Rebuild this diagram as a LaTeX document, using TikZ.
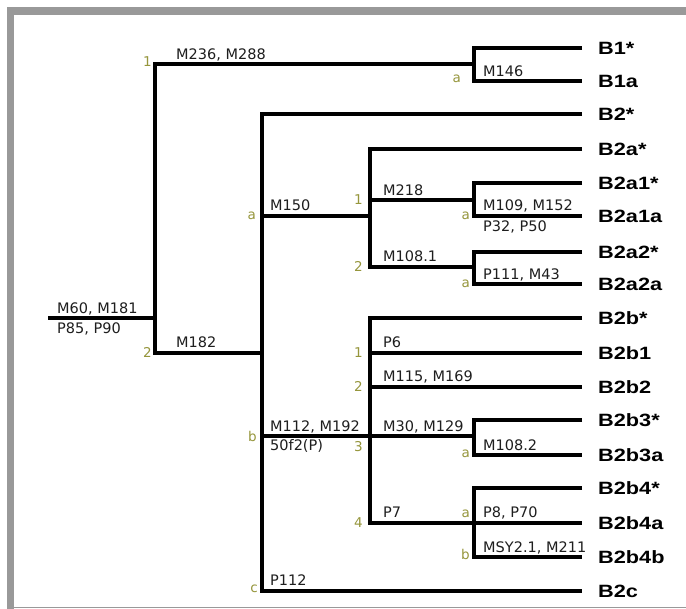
\documentclass[tikz,border=0pt]{standalone}
\usepackage{fontspec}
\newfontfamily\lblfont{DejaVu Sans}
\newfontfamily\leaffont{Liberation Sans}[FakeStretch=1.22]
\definecolor{framegray}{RGB}{153,153,153}
\definecolor{grn}{RGB}{150,150,60}
\definecolor{lbl}{RGB}{30,30,30}
\begin{document}
\begin{tikzpicture}[x=1pt,y=-1pt,
  br/.style={line width=4.3pt,line join=miter,line cap=butt},
  leaf/.style={anchor=west,inner xsep=16pt,inner ysep=0pt,text height=12.8pt,text depth=0pt,
    font=\leaffont\bfseries\fontsize{17.8}{20}\selectfont},
  lab/.style={anchor=base west,inner sep=0pt,text=lbl,font=\lblfont\fontsize{14.5}{16}\selectfont},
  grl/.style={anchor=base east,inner sep=0pt,text=grn,font=\lblfont\fontsize{13.5}{15}\selectfont}]
\useasboundingbox (0,0) rectangle (686,609);
\fill[white] (0,0) rectangle (686,609);
% frame
\fill[framegray] (7,7) rectangle (686,15);
\fill[framegray] (7,7) rectangle (14,609);
\draw[framegray,line width=1.5pt] (14,607.5) -- (686,607.5);

% leaves
\node[leaf] (B1s)   at (582,48)  {B1*};
\node[leaf] (B1a)   at (582,81)  {B1a};
\node[leaf] (B2s)   at (582,114) {B2*};
\node[leaf] (B2as)  at (582,149) {B2a*};
\node[leaf] (B2a1s) at (582,183) {B2a1*};
\node[leaf] (B2a1a) at (582,216) {B2a1a};
\node[leaf] (B2a2s) at (582,252) {B2a2*};
\node[leaf] (B2a2a) at (582,284) {B2a2a};
\node[leaf] (B2bs)  at (582,318) {B2b*};
\node[leaf] (B2b1)  at (582,353) {B2b1};
\node[leaf] (B2b2)  at (582,387) {B2b2};
\node[leaf] (B2b3s) at (582,420) {B2b3*};
\node[leaf] (B2b3a) at (582,455) {B2b3a};
\node[leaf] (B2b4s) at (582,488) {B2b4*};
\node[leaf] (B2b4a) at (582,523) {B2b4a};
\node[leaf] (B2b4b) at (582,557) {B2b4b};
\node[leaf] (B2c)   at (582,591) {B2c};

% junctions
\coordinate (r)   at (48,318);
\coordinate (J0)  at (155,318);
\coordinate (c1)  at (155,64);
\coordinate (c2)  at (155,353);
\coordinate (J1)  at (474,64);
\coordinate (J2)  at (262,353);
\coordinate (J2a) at (262,216);
\coordinate (J3)  at (370,216);
\coordinate (J31) at (370,200);
\coordinate (J4)  at (474,200);
\coordinate (J32) at (370,267);
\coordinate (J5)  at (474,267);
\coordinate (J2b) at (262,436);
\coordinate (J6)  at (370,436);
\coordinate (J7)  at (474,436);
\coordinate (J64) at (370,523);
\coordinate (J8)  at (474,523);

% branches
\draw[br] (r) -- (J0);
\draw[br] (J1) -- (c1) -- (c2) -- (J2);
\draw[br] (B1s.west) -- (B1s.west -| J1) -- (B1a.west -| J1) -- (B1a.west);
\draw[br] (B2s.west) -- (B2s.west -| J2) -- (B2c.west -| J2) -- (B2c.west);
\draw[br] (J2a) -- (J3);
\draw[br] (B2as.west) -- (B2as.west -| J3) -- (J32) -- (J5);
\draw[br] (J31) -- (J4);
\draw[br] (B2a1s.west) -- (B2a1s.west -| J4) -- (B2a1a.west -| J4) -- (B2a1a.west);
\draw[br] (B2a2s.west) -- (B2a2s.west -| J5) -- (B2a2a.west -| J5) -- (B2a2a.west);
\draw[br] (B2bs.west) -- (B2bs.west -| J6) -- (J64) -- (B2b4a.west);
\draw[br] (J2b) -- (J7);
\draw[br] (B2b1.west -| J6) -- (B2b1.west);
\draw[br] (B2b2.west -| J6) -- (B2b2.west);
\draw[br] (B2b3s.west) -- (B2b3s.west -| J7) -- (B2b3a.west -| J7) -- (B2b3a.west);
\draw[br] (B2b4s.west) -- (B2b4s.west -| J8) -- (B2b4b.west -| J8) -- (B2b4b.west);

% branch labels
\node[lab] (l1)  at (57,314)  {M60, M181};
\node[lab] (l2)  at (57,334)  {P85, P90};
\node[lab] (l3)  at (176,60)  {M236, M288};
\node[lab] (l4)  at (483,77)  {M146};
\node[lab] (l5)  at (176,348) {M182};
\node[lab] (l6)  at (270,211) {M150};
\node[lab] (l7)  at (383,196) {M218};
\node[lab] (l8)  at (483,211) {M109, M152};
\node[lab] (l9)  at (483,232) {P32, P50};
\node[lab] (l10) at (383,262) {M108.1};
\node[lab] (l11) at (483,280) {P111, M43};
\node[lab] (l12) at (383,348) {P6};
\node[lab] (l13) at (383,382) {M115, M169};
\node[lab] (l14) at (270,432) {M112, M192};
\node[lab] (l15) at (270,451) {50f2(P)};
\node[lab] (l16) at (383,432) {M30, M129};
\node[lab] (l17) at (483,451) {M108.2};
\node[lab] (l18) at (383,518) {P7};
\node[lab] (l19) at (483,518) {P8, P70};
\node[lab] (l20) at (483,553) {MSY2.1, M211};
\node[lab] (l21) at (270,586) {P112};

% green index labels
\node[grl] (g1)  at (152,67)  {1};
\node[grl] (g2)  at (152,358) {2};
\node[grl] (g3)  at (256,220) {a};
\node[grl] (g4)  at (257,442) {b};
\node[grl] (g5)  at (258,593) {c};
\node[grl] (g6)  at (363,205) {1};
\node[grl] (g7)  at (363,272) {2};
\node[grl] (g8)  at (363,358) {1};
\node[grl] (g9)  at (363,392) {2};
\node[grl] (g10) at (363,452) {3};
\node[grl] (g11) at (363,528) {4};
\node[grl] (g12) at (461,83)  {a};
\node[grl] (g13) at (470,220) {a};
\node[grl] (g14) at (470,288) {a};
\node[grl] (g15) at (470,458) {a};
\node[grl] (g16) at (470,518) {a};
\node[grl] (g17) at (470,560) {b};
\end{tikzpicture}
\end{document}
